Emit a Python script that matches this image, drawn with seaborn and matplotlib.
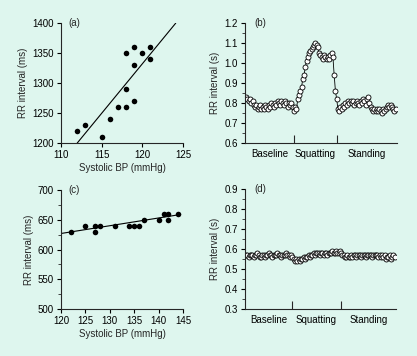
import matplotlib
matplotlib.use("Agg")

import numpy as np
import matplotlib.pyplot as plt
from matplotlib.ticker import MultipleLocator, FixedLocator
import seaborn as sns

BG = "#def6ee"

# ── Data ─────────────────────────────────────────────────────────────────────
# (a) subject 1: systolic BP vs RR interval
a_bp = [112, 113, 115, 116, 117, 118, 118, 118, 119, 119, 119, 120, 121, 121]
a_rr = [1220, 1230, 1210, 1240, 1260, 1260, 1290, 1350, 1270, 1330, 1360, 1350, 1360, 1340]
a_fit_bp = [112.0, 124.1]
a_fit_rr = [1200, 1400]

# (c) subject 2
c_bp = [122, 125, 127, 127, 128, 131, 134, 135, 136, 137, 140, 141, 142, 142, 144]
c_rr = [630, 640, 640, 630, 640, 640, 640, 640, 640, 650, 650, 660, 660, 650, 660]
c_fit_bp = [120.0, 144.5]
c_fit_rr = [627, 659]

# (b) beat-by-beat RR interval, subject 1
b_rr = [
    # baseline
    0.83, 0.82, 0.81, 0.82, 0.80, 0.81, 0.79, 0.78, 0.79, 0.77,
    0.78, 0.79, 0.77, 0.78, 0.77, 0.79, 0.78, 0.77, 0.79, 0.78,
    0.80, 0.79, 0.78, 0.80, 0.79, 0.81, 0.80, 0.79, 0.81, 0.80,
    0.79, 0.81, 0.80, 0.78, 0.80, 0.79, 0.80, 0.78,
    # squatting
    0.76, 0.78, 0.77, 0.82, 0.84, 0.86, 0.88, 0.92, 0.94, 0.98,
    1.01, 1.03, 1.05, 1.06, 1.07, 1.08, 1.09, 1.10, 1.09, 1.08,
    1.05, 1.04, 1.03, 1.02, 1.04, 1.03, 1.02, 1.03, 1.02, 1.04,
    1.05, 1.03, 0.94, 0.86,
    # standing
    0.82, 0.77, 0.76, 0.78, 0.77, 0.79, 0.78, 0.80, 0.79, 0.81,
    0.80, 0.81, 0.80, 0.81, 0.79, 0.80, 0.81, 0.80, 0.79, 0.81,
    0.80, 0.82, 0.81, 0.79, 0.82, 0.83, 0.80, 0.78, 0.77, 0.76,
    0.77, 0.76, 0.77, 0.76, 0.77, 0.76, 0.75, 0.77, 0.76, 0.77,
    0.78, 0.79, 0.78, 0.79, 0.78, 0.77, 0.76, 0.77,
]
b_breaks = [38, 72.2]

# (d) beat-by-beat RR interval, subject 2
d_rr = [
    # baseline
    0.57, 0.57, 0.56, 0.57, 0.57, 0.57, 0.56, 0.57, 0.57, 0.58,
    0.57, 0.56, 0.56, 0.57, 0.57, 0.56, 0.57, 0.57, 0.58, 0.57,
    0.57, 0.56, 0.57, 0.57, 0.57, 0.58, 0.57, 0.57, 0.56, 0.57,
    0.57, 0.57, 0.58, 0.57, 0.57, 0.56, 0.57,
    # squatting
    0.56, 0.55, 0.54, 0.55, 0.54, 0.55, 0.54, 0.55, 0.55, 0.56,
    0.55, 0.56, 0.56, 0.57, 0.56, 0.57, 0.57, 0.58, 0.57, 0.58,
    0.58, 0.58, 0.57, 0.58, 0.58, 0.57, 0.58, 0.58, 0.57, 0.58,
    0.58, 0.58, 0.59, 0.58, 0.58, 0.59, 0.58, 0.58, 0.59,
    # standing
    0.58, 0.57, 0.57, 0.56, 0.56, 0.57, 0.56, 0.56, 0.57, 0.56,
    0.57, 0.57, 0.56, 0.57, 0.57, 0.57, 0.56, 0.57, 0.57, 0.57,
    0.56, 0.57, 0.57, 0.57, 0.57, 0.56, 0.57, 0.57, 0.57, 0.57,
    0.56, 0.57, 0.56, 0.57, 0.56, 0.57, 0.55, 0.56, 0.56, 0.57,
    0.55, 0.56, 0.57, 0.56,
]
d_breaks = [36.6, 76]

phases = ["Baseline", "Squatting", "Standing"]

# ── Style ────────────────────────────────────────────────────────────────────
sns.set_style("ticks")
plt.rcParams["font.family"] = ["Liberation Sans", "DejaVu Sans"]
plt.rcParams["font.size"] = 7
plt.rcParams["axes.linewidth"] = 0.8

fig = plt.figure(figsize=(4.17, 3.56), dpi=100, facecolor=BG)
ax_a = fig.add_axes([0.146, 0.598, 0.293, 0.337])
ax_b = fig.add_axes([0.5875, 0.598, 0.3645, 0.337])
ax_c = fig.add_axes([0.146, 0.132, 0.293, 0.334])
ax_d = fig.add_axes([0.5875, 0.132, 0.362, 0.337])

for ax in (ax_a, ax_b, ax_c, ax_d):
    ax.set_facecolor(BG)
    sns.despine(ax=ax)
    ax.tick_params(labelsize=7, length=3, width=0.8, pad=2, colors="black")


def scatter_panel(ax, bp, rr, fit_bp, fit_rr, xlim, ylim, ystep, yminor, tag):
    sns.scatterplot(x=bp, y=rr, ax=ax, color="black", s=16, edgecolor="black",
                    linewidth=0, zorder=3)
    sns.lineplot(x=fit_bp, y=fit_rr, ax=ax, color="black", lw=0.8)
    ax.set_xlim(*xlim)
    ax.set_ylim(*ylim)
    ax.xaxis.set_major_locator(MultipleLocator(5))
    ax.yaxis.set_major_locator(MultipleLocator(ystep))
    if yminor:
        ax.yaxis.set_minor_locator(MultipleLocator(yminor))
        ax.tick_params(axis="y", which="minor", length=2, width=0.6)
    ax.set_xlabel("Systolic BP (mmHg)", fontsize=7, labelpad=2)
    ax.set_ylabel("RR interval (ms)", fontsize=7, labelpad=3)
    ax.text(0.06, 1.0, tag, transform=ax.transAxes, fontsize=7, va="center")


def series_panel(ax, rr, breaks, ylim, tag):
    beat = np.arange(len(rr))
    sns.lineplot(x=beat, y=rr, ax=ax, color="black", lw=0.6, marker="o",
                 markersize=3.6, markerfacecolor="white",
                 markeredgecolor="black", markeredgewidth=0.6)
    n = len(rr)
    ax.set_xlim(-1, n)
    ax.set_ylim(*ylim)
    ax.yaxis.set_major_locator(MultipleLocator(0.1))
    ax.yaxis.set_minor_locator(MultipleLocator(0.05))
    ax.yaxis.set_major_formatter(matplotlib.ticker.FormatStrFormatter("%.1f"))
    ax.tick_params(axis="y", which="minor", length=2, width=0.6)
    edges = [-1] + list(breaks) + [n]
    mids = [(edges[i] + edges[i + 1]) / 2 for i in range(3)]
    ax.xaxis.set_major_locator(FixedLocator(mids))
    ax.set_xticklabels(phases)
    ax.tick_params(axis="x", which="major", length=0, pad=4)
    ax.xaxis.set_minor_locator(FixedLocator(breaks))
    ax.tick_params(axis="x", which="minor", direction="in", length=6, width=0.8)
    ax.set_xlabel("")
    ax.set_ylabel("RR interval (s)", fontsize=7, labelpad=3)
    ax.text(0.06, 1.0, tag, transform=ax.transAxes, fontsize=7, va="center")


scatter_panel(ax_a, a_bp, a_rr, a_fit_bp, a_fit_rr, (110, 125), (1200, 1400), 50, None, "(a)")
scatter_panel(ax_c, c_bp, c_rr, c_fit_bp, c_fit_rr, (120, 145), (500, 700), 50, 25, "(c)")
series_panel(ax_b, b_rr, b_breaks, (0.6, 1.2), "(b)")
series_panel(ax_d, d_rr, d_breaks, (0.3, 0.9), "(d)")

fig.savefig("out.png", dpi=100, facecolor=BG)
